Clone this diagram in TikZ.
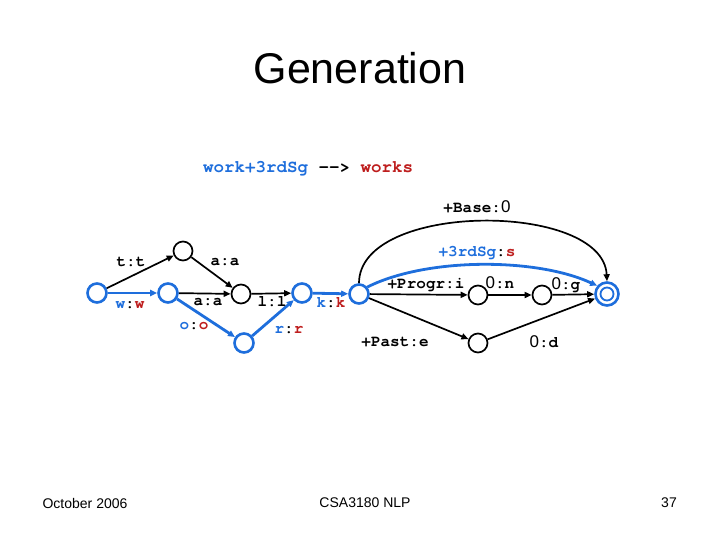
\documentclass[tikz,border=0pt]{standalone}
\usepackage{fontspec}
\setmainfont{Liberation Sans}
\newfontfamily\cour{TeX Gyre Cursor}
\usetikzlibrary{arrows.meta}
\definecolor{fblue}{RGB}{30,110,220}
\definecolor{fred}{RGB}{190,30,30}
\newcommand\zr{{\normalfont\fontsize{17}{17}\selectfont 0}}
\newcommand\bl[1]{\textcolor{fblue}{#1}}
\newcommand\rd[1]{\textcolor{fred}{#1}}
\begin{document}
\begin{tikzpicture}[x=1pt,y=-1pt,
 st/.style={circle,draw=black,line width=1.7pt,minimum size=19pt,inner sep=0pt,fill=white},
 bst/.style={st,draw=fblue,line width=2.6pt},
 tr/.style={line width=1.7pt,-{Triangle[length=7pt,width=6pt]}},
 btr/.style={tr,color=fblue,line width=2.8pt},
 lab/.style={font=\cour\bfseries\fontsize{16}{16}\selectfont,inner sep=0pt}
]
\useasboundingbox (0,0) rectangle (720,540);
\node[font=\fontsize{43}{46}\selectfont] (title) at (360,68) {Generation};
\node[lab,font=\cour\bfseries\fontsize{17.5}{18}\selectfont] (sub) at (308,169) {\bl{work+3rdSg} --> \rd{works}};
% states
\node[bst] (q0) at (97,293) {};
\node[st] (q1) at (183,251) {};
\node[bst] (q2) at (168,293) {};
\node[st] (q3) at (241,294) {};
\node[bst] (q4) at (244,343) {};
\node[bst] (q5) at (302,293) {};
\node[bst] (q6) at (359,294) {};
\node[st] (q7) at (478,295) {};
\node[st] (q8) at (542,295) {};
\node[st] (q9) at (478,343) {};
\node[bst,minimum size=23pt] (f) at (607,294) {};
\node[circle,draw=fblue,line width=1.8pt,minimum size=13pt,inner sep=0pt] (fi) at (607,294) {};
% transitions
\draw[tr] (q0) -- (q1);
\draw[tr] (q1) -- (q3);
\draw[btr] (q0) -- (q2);
\draw[tr] (q2) -- (q3);
\draw[btr] (q2) -- (q4);
\draw[tr] (q3) -- (q5);
\draw[btr] (q4) -- (q5);
\draw[btr] (q5) -- (q6);
\draw[tr] (q6.north) .. controls +(0,-82) and +(-4,-80) .. (f.north);
\draw[btr] (q6.40) .. controls +(60,-30) and +(-60,-28) .. (f.140);
\draw[tr] (q6) -- (q7);
\draw[tr] (q7) -- (q8);
\draw[tr] (q8) -- (f);
\draw[tr] (q6) -- (q9);
\draw[tr] (q9) -- (f);
% labels
\node[lab] (l1) at (131,262) {t:t};
\node[lab] (l2) at (225,262) {a:a};
\node[lab] (l3) at (130,305) {\bl{w}:\rd{w}};
\node[lab] (l4) at (208,302) {a:a};
\node[lab] (l5) at (194,326) {\bl{o}:\rd{o}};
\node[lab] (l6) at (272,302) {l:l};
\node[lab] (l7) at (289,330) {\bl{r}:\rd{r}};
\node[lab] (l8) at (331,303) {\bl{k}:\rd{k}};
\node[lab] (l9) at (477,207) {+Base:\zr};
\node[lab] (l10) at (477,253) {\bl{+3rdSg}:\rd{s}};
\node[lab] (l11) at (426,285) {+Progr:i};
\node[lab] (l12) at (500,283) {\zr:n};
\node[lab] (l13) at (566,285) {\zr:g};
\node[lab] (l14) at (395,342) {+Past:e};
\node[lab] (l15) at (544,342) {\zr:d};
% footer
\node[font=\fontsize{14}{16}\selectfont] (f1) at (85,503) {October 2006};
\node[font=\fontsize{14}{16}\selectfont] (f2) at (365,503) {CSA3180 NLP};
\node[font=\fontsize{14}{16}\selectfont] (f3) at (669,503) {37};
\end{tikzpicture}
\end{document}
